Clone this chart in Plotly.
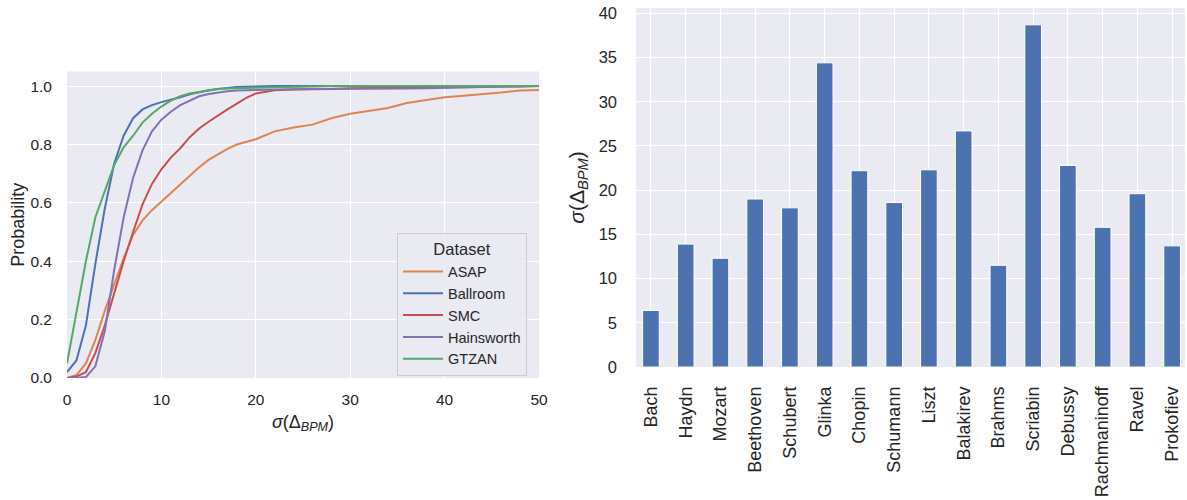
import plotly.graph_objects as go

# ---------------- data ----------------
sigma_x = [0, 1, 2, 3, 4, 5, 6, 7, 8, 9, 10, 11, 12, 13, 14, 15, 16, 17, 18, 19, 20,
           22, 24, 26, 28, 30, 32, 34, 36, 38, 40, 42, 44, 46, 48, 50]

asap = [0.0, 0.01, 0.05, 0.13, 0.23, 0.32, 0.41, 0.49, 0.54, 0.575, 0.605, 0.635, 0.665,
        0.695, 0.722, 0.747, 0.767, 0.785, 0.80, 0.808, 0.818, 0.845, 0.858, 0.868, 0.89,
        0.905, 0.915, 0.925, 0.942, 0.952, 0.962, 0.967, 0.972, 0.978, 0.985, 0.987]
ballroom = [0.02, 0.06, 0.18, 0.39, 0.58, 0.735, 0.83, 0.89, 0.92, 0.935, 0.945, 0.953, 0.962,
            0.972, 0.98, 0.986, 0.99, 0.994, 0.997, 0.998, 0.999, 1.0, 1.0, 1.0, 1.0,
            1.0, 1.0, 1.0, 1.0, 1.0, 1.0, 1.0, 1.0, 1.0, 1.0, 1.0]
smc = [0.0, 0.005, 0.02, 0.085, 0.18, 0.29, 0.40, 0.50, 0.595, 0.665, 0.715, 0.755, 0.787,
       0.825, 0.855, 0.878, 0.9, 0.92, 0.94, 0.96, 0.975, 0.986, 0.988, 0.988, 0.99,
       0.993, 0.994, 0.995, 0.996, 0.996, 0.997, 0.998, 0.998, 0.999, 0.999, 1.0]
hainsworth = [0.0, 0.0, 0.003, 0.04, 0.16, 0.37, 0.55, 0.685, 0.78, 0.845, 0.885, 0.912, 0.935,
              0.95, 0.965, 0.973, 0.978, 0.982, 0.985, 0.986, 0.987, 0.988, 0.989, 0.99, 0.99,
              0.991, 0.991, 0.992, 0.992, 0.993, 0.993, 0.995, 0.997, 0.998, 0.999, 1.0]
gtzan = [0.05, 0.22, 0.40, 0.55, 0.64, 0.73, 0.79, 0.83, 0.875, 0.905, 0.93, 0.95, 0.965,
         0.975, 0.98, 0.985, 0.99, 0.992, 0.993, 0.994, 0.995, 0.997, 0.998, 0.999, 1.0,
         1.0, 1.0, 1.0, 1.0, 1.0, 1.0, 1.0, 1.0, 1.0, 1.0, 1.0]

series_names = ["ASAP", "Ballroom", "SMC", "Hainsworth", "GTZAN"]
series_values = [asap, ballroom, smc, hainsworth, gtzan]
series_colors = ["#dd8452", "#4c72b0", "#c44e52", "#8172b3", "#55a868"]

composers = ["Bach", "Haydn", "Mozart", "Beethoven", "Schubert", "Glinka", "Chopin",
             "Schumann", "Liszt", "Balakirev", "Brahms", "Scriabin", "Debussy",
             "Rachmaninoff", "Ravel", "Prokofiev"]
composer_sigma = [6.4, 13.9, 12.3, 19.0, 18.0, 34.4, 22.2, 18.6, 22.3, 26.7, 11.5, 38.7,
                  22.8, 15.8, 19.6, 13.7]

# ---------------- figure ----------------
FONT = "Liberation Sans, Arial, sans-serif"
TXT = "#262626"
BG = "#eaeaf2"

fig = go.Figure()

for name, vals, col in zip(series_names, series_values, series_colors):
    fig.add_trace(go.Scatter(x=sigma_x, y=vals, mode="lines", name=name,
                             line=dict(color=col, width=2),
                             xaxis="x", yaxis="y"))

fig.add_trace(go.Bar(x=composers, y=composer_sigma, width=0.48,
                     marker=dict(color="#4c72b0", line=dict(color="white", width=1)),
                     showlegend=False, xaxis="x2", yaxis="y2"))

W, H = 1187, 500
ml, mr, mt, mb = 67, 2, 8, 500 - 378
pw, ph = W - ml - mr, H - mt - mb

def xd(a, b):
    return [(a - ml) / pw, min(1.0, (b - ml) / pw)]

def yd(top, bottom):
    return [max(0.0, (H - mb - bottom) / ph), min(1.0, (H - mb - top) / ph)]

axis_common = dict(showgrid=True, gridcolor="white", gridwidth=1.3, zeroline=False,
                   showline=False, ticks="", tickfont=dict(size=15.5, color=TXT, family=FONT))

fig.update_layout(
    width=W, height=H,
    margin=dict(l=ml, r=mr, t=mt, b=mb),
    paper_bgcolor="white", plot_bgcolor=BG,
    font=dict(family=FONT, color=TXT),
    xaxis=dict(domain=xd(67, 539), range=[0, 50], tickvals=[0, 10, 20, 30, 40, 50],
               anchor="y", automargin=False, ticklabelstandoff=10,
               title=dict(text="<i>σ</i>(Δ<sub><i>BPM</i></sub>)",
                          font=dict(size=18, color=TXT), standoff=8),
               **axis_common),
    yaxis=dict(domain=yd(71.5, 378), range=[0, 1.05], tickvals=[0, 0.2, 0.4, 0.6, 0.8, 1.0],
               tickformat=".1f", anchor="x", automargin=False, ticklabelstandoff=14,
               title=dict(text="Probability", font=dict(size=18, color=TXT), standoff=1),
               **axis_common),
    xaxis2=dict(domain=xd(636, 1185), range=[-0.43, 15.37], anchor="y2", automargin=False,
                tickangle=-90, ticklabelstandoff=15,
                showgrid=True, gridcolor="white", gridwidth=1.3, zeroline=False,
                showline=False, ticks="", tickfont=dict(size=18, color=TXT, family=FONT)),
    yaxis2=dict(domain=yd(8, 367), range=[0, 40.6], tickvals=list(range(0, 41, 5)),
                anchor="x2", automargin=False, ticklabelstandoff=18,
                ticklabeloverflow="allow",
                title=dict(text="<i>σ</i>(Δ<sub><i>BPM</i></sub>)",
                           font=dict(size=21, color=TXT), standoff=8),
                showgrid=True, gridcolor="white", gridwidth=1.3, zeroline=False,
                showline=False, ticks="", tickfont=dict(size=16.5, color=TXT, family=FONT)),
    legend=dict(x=(397 - ml) / pw, y=(H - mb - 233) / ph,
                xanchor="left", yanchor="top",
                bgcolor="rgba(234,234,242,0.85)", bordercolor="#cccccc", borderwidth=1,
                font=dict(size=14.5, color=TXT, family=FONT),
                title=dict(text="Dataset", side="top center", font=dict(size=16.5, color=TXT)),
                tracegroupgap=0, itemwidth=40),
    bargap=0.5,
)

fig.write_html("out.html", config={"displayModeBar": False},
               post_script="document.body.style.margin='0';document.body.style.overflow='hidden';")
